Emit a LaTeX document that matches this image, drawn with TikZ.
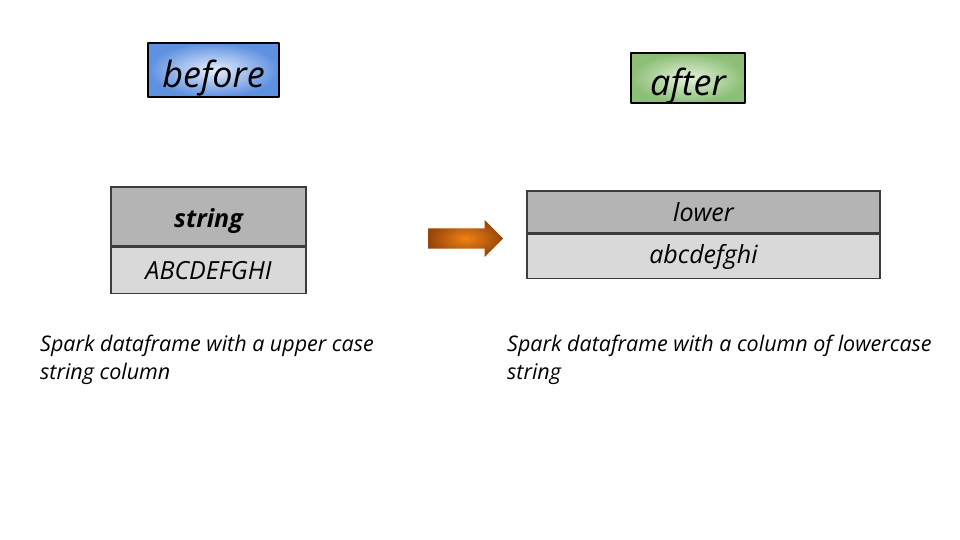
\documentclass[tikz,border=0pt]{standalone}
\usepackage{fontspec}
\setmainfont{Open Sans}
\usetikzlibrary{shapes.arrows}

\definecolor{beforeout}{RGB}{95,145,225}
\definecolor{beforein}{RGB}{230,238,252}
\definecolor{afterout}{RGB}{140,190,118}
\definecolor{afterin}{RGB}{228,242,220}
\definecolor{hdrgray}{RGB}{180,180,180}
\definecolor{rowgray}{RGB}{217,217,217}
\definecolor{edgegray}{RGB}{60,60,60}
\definecolor{arrowin}{RGB}{240,130,20}
\definecolor{arrowout}{RGB}{150,70,10}

\tikzset{
  tag/.style={draw=black, line width=2.6pt, line join=round, inner sep=0pt,
    font=\fontsize{36}{40}\selectfont\itshape},
  cell/.style={draw=edgegray, line width=1.6pt, inner sep=0pt,
    font=\fontsize{25}{28}\selectfont\itshape},
  caption/.style={anchor=north west, align=left, inner sep=0pt,
    font=\fontsize{21.5}{28}\selectfont\itshape}
}

\begin{document}
\begin{tikzpicture}[x=1pt, y=-1pt]
  \useasboundingbox (0,0) rectangle (960,540);
  % Title tags
  \node[tag, inner color=beforein, outer color=beforeout,
    minimum width=131, minimum height=54] (before) at (213.5,70) {\smash{\raisebox{-18pt}{before}}};
  \node[tag, inner color=afterin, outer color=afterout,
    minimum width=114, minimum height=50] (after) at (688,78) {\smash{\raisebox{-18pt}{after}}};
  % Left table (upper case)
  \node[cell, fill=hdrgray, minimum width=195, minimum height=59] (hdrA) at (208.5,216.5) {\smash{\raisebox{-11pt}{\bfseries string}}};
  \node[cell, fill=rowgray, minimum width=195, minimum height=46, anchor=north] (rowA) at (hdrA.south) {ABCDEFGHI};
  % Right table (lower case)
  \node[cell, fill=hdrgray, minimum width=353, minimum height=42] (hdrB) at (703.5,212) {lower};
  \node[cell, fill=rowgray, minimum width=353, minimum height=44, anchor=north] (rowB) at (hdrB.south) {abcdefghi};
  % Transformation arrow
  \node[single arrow, inner color=arrowin, outer color=arrowout, draw=none,
    minimum height=75, single arrow head extend=8.5pt,
    single arrow head indent=0pt, inner sep=10pt, anchor=west] (arr) at (428,238.5) {};
  % Captions
  \node[caption] (capA) at (40,335) {Spark dataframe with a upper case\\string column};
  \node[caption] (capB) at (507,335) {Spark dataframe with a column of lowercase\\string};
\end{tikzpicture}
\end{document}
